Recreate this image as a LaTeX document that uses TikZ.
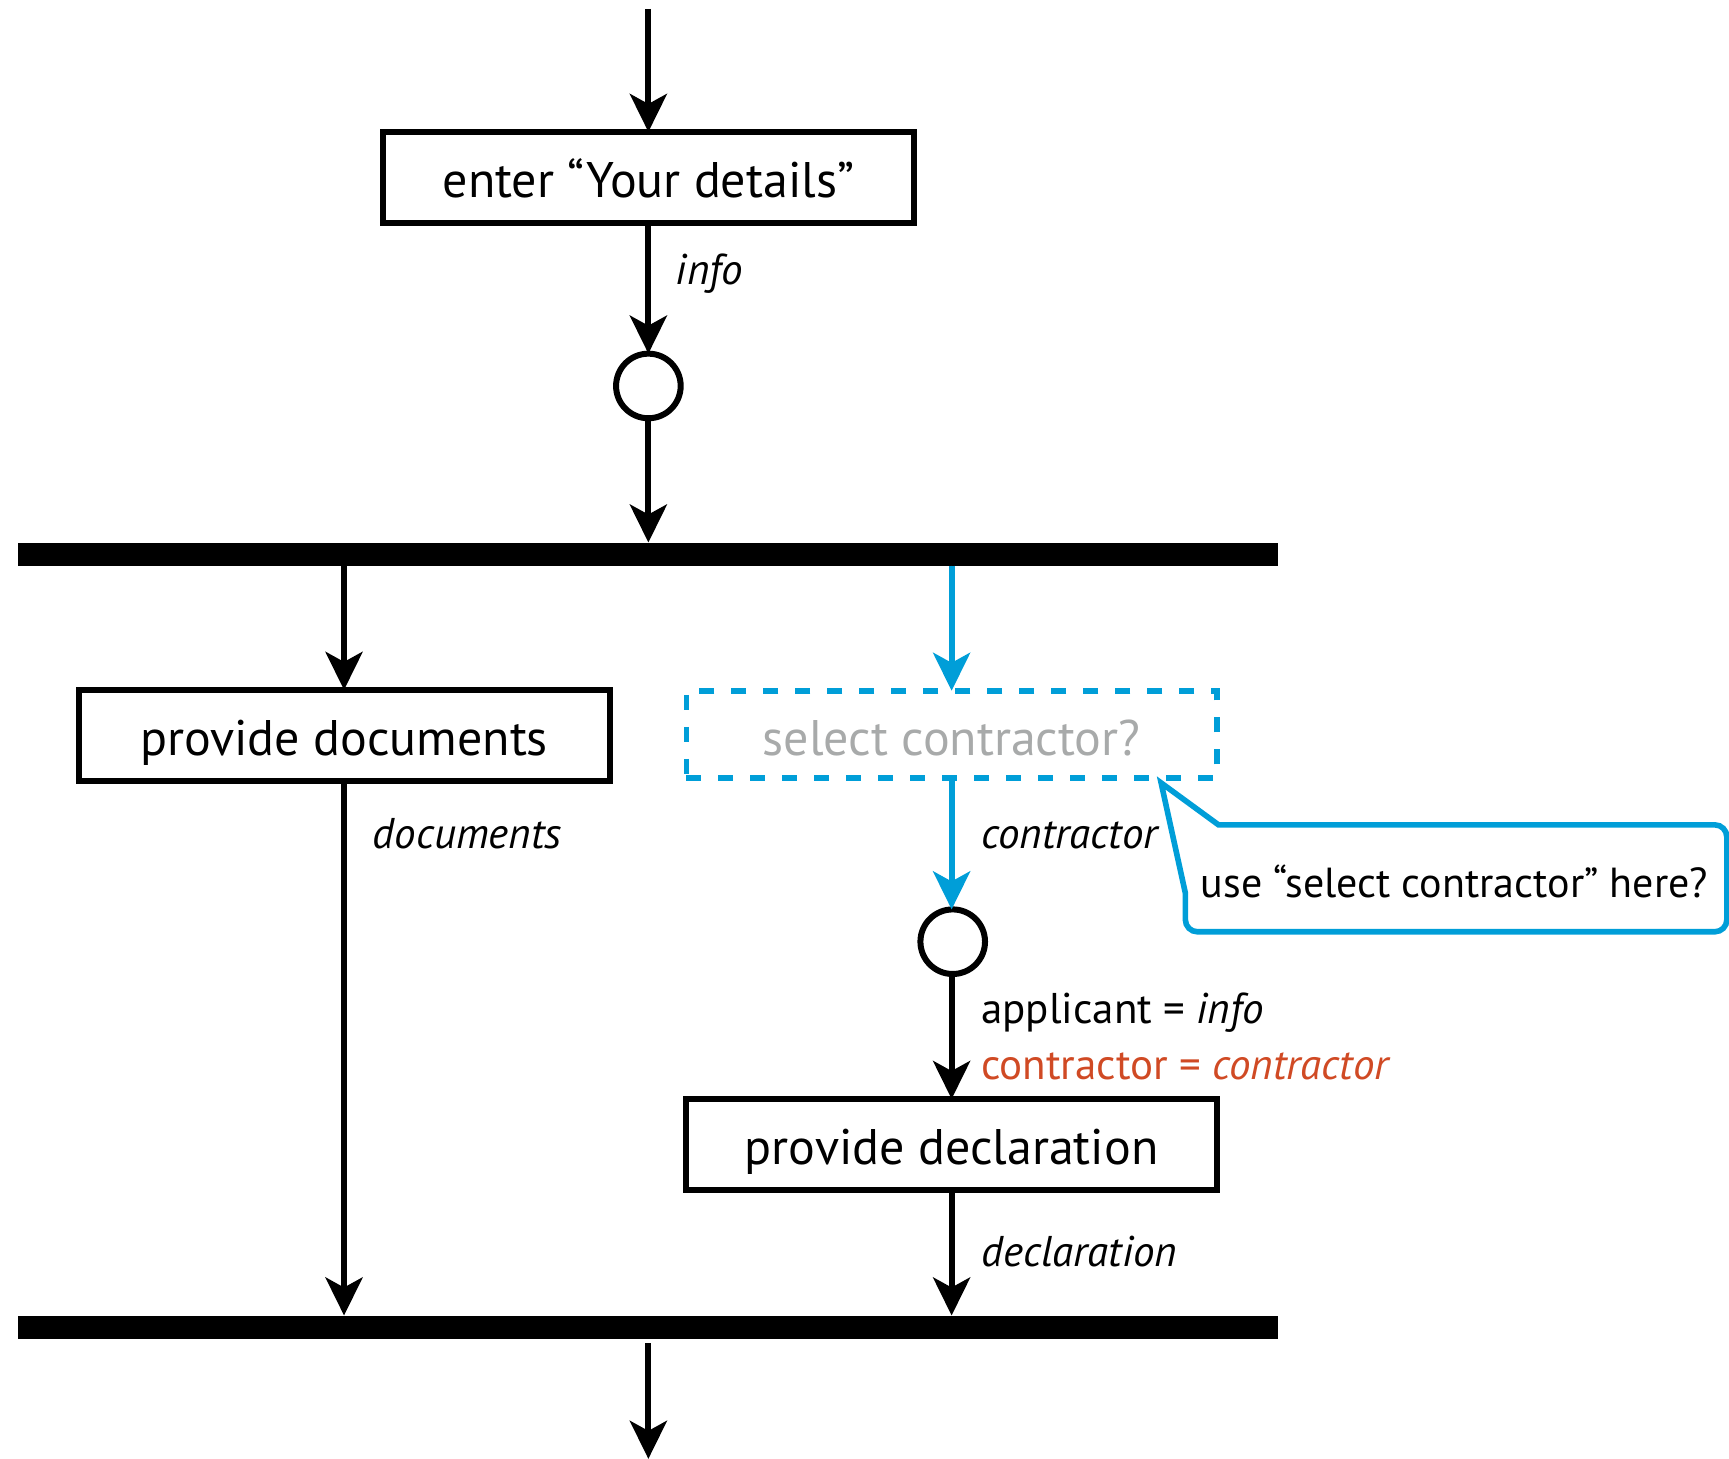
\documentclass[tikz,border=0pt]{standalone}
\usepackage{fontspec}
\setmainfont{PT Sans}
\usetikzlibrary{arrows.meta,calc}
\definecolor{flowblue}{RGB}{0,158,216}
\definecolor{flowred}{RGB}{208,74,36}
\definecolor{flowgray}{RGB}{168,170,170}
\begin{document}
\begin{tikzpicture}[x=0.55135pt,y=-0.55135pt,
  every node/.style={inner sep=0pt,outer sep=0pt},
  actbox/.style={draw,line width=3pt,minimum width=265.5pt,minimum height=45.6pt,
    text height=19.6pt,text depth=0pt,font=\fontsize{25}{30}\selectfont},
  optbox/.style={draw=flowblue,line width=2.9pt,dash pattern=on 7.5pt off 8.5pt,
    minimum width=265.2pt,minimum height=43.6pt,text=flowgray,
    text height=21pt,text depth=0pt,font=\fontsize{25}{30}\selectfont},
  merge/.style={circle,draw,line width=3pt,minimum size=32.3pt},
  bar/.style={fill=black,minimum width=630.2pt,minimum height=11.6pt},
  flow/.style={line width=2.9pt,-{Stealth[length=19pt,width=18.5pt,inset=5pt]}},
  optflow/.style={flow,draw=flowblue,fill=flowblue},
  lbl/.style={anchor=west,font=\fontsize{21.5}{25}\selectfont},
  note/.style={draw=flowblue,line width=2.8pt}]
\useasboundingbox (0,0) rectangle (1568,1323);
\clip (0,0) rectangle (1568,1323);

% activities, merges and synchronisation bars
\coordinate (start) at (588,8);
\node[actbox] (enter) at (588,161) {enter “Your details”};
\node[merge] (m1) at (588,350) {};
\node[bar] (fork) at (587.5,502.5) {};
\node[actbox] (docs) at (312,667) {provide documents};
\node[optbox] (sel) at (863,666) {select contractor?};
\node[merge] (m2) at (864,854) {};
\node[actbox] (decl) at (863,1038) {provide declaration};
\node[bar] (join) at (587.5,1203.5) {};
\coordinate (finish) at (588,1323);

% object flows
\draw[flow] (start) -- (enter);
\draw[flow] (enter) -- (m1);
\draw[flow] (m1) -- (m1 |- fork.north);
\draw[flow] (docs |- fork.south) -- (docs);
\draw[flow] (docs) -- (docs |- join.north);
\draw[optflow] (sel |- fork.south) -- (sel);
\draw[optflow] (sel) -- (sel |- m2.north);
\draw[flow] (m2.south -| decl) -- (decl);
\draw[flow] (decl) -- (decl |- join.north);
\draw[flow] (finish |- join.south) ++(0,4) -- (finish);

% flow labels
\node[lbl] (linfo) at (613,248) {\itshape info};
\node[lbl] (ldocs) at (338,756) {\itshape documents};
\node[lbl] (lcon) at (890,758) {\itshape contractor};
\node[lbl] (lapp) at (890,918) {applicant = \itshape info};
\node[lbl,text=flowred] (lcon2) at (890,967) {contractor = \itshape contractor};
\node[lbl] (ldecl) at (890,1135) {\itshape declaration};

% comment callout
\coordinate (tip) at (1053,710);
\draw[note] (1075,810) -- (tip) -- (1105,748) [rounded corners=6pt] -- (1566,748)
  -- (1566,845) -- (1075,845) [sharp corners] -- cycle;
\node[lbl,font=\fontsize{21}{25}\selectfont] (ntext) at (1089,799) {use “select contractor” here?};
\end{tikzpicture}
\end{document}
